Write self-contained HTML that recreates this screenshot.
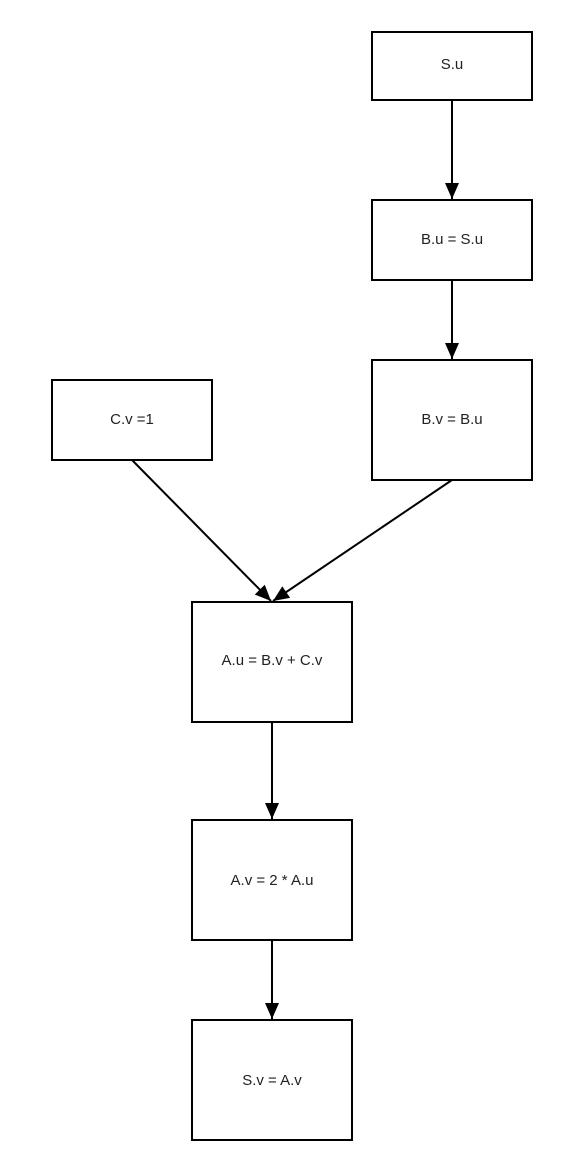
<!DOCTYPE html>
<html><head><style>body{margin:0;background:#fff}svg{display:block}</style></head><body>
<svg width="561" height="1172" xmlns="http://www.w3.org/2000/svg">
<defs>
<marker id="b" markerWidth="16" markerHeight="14" refX="16" refY="7" orient="auto" markerUnits="userSpaceOnUse" viewBox="0 0 16 14"><path d="M0,0 L16,7 L0,14 z" fill="#000"/></marker></defs>
<g fill="#fff" stroke="#000" stroke-width="2">
<rect x="372" y="32" width="160" height="68"/>
<rect x="372" y="200" width="160" height="80"/>
<rect x="372" y="360" width="160" height="120"/>
<rect x="52" y="380" width="160" height="80"/>
<rect x="192" y="602" width="160" height="120"/>
<rect x="192" y="820" width="160" height="120"/>
<rect x="192" y="1020" width="160" height="120"/>
</g>
<g stroke="#000" stroke-width="2" fill="none">
<line x1="452" y1="100" x2="452" y2="199" marker-end="url(#b)"/>
<line x1="452" y1="280" x2="452" y2="359" marker-end="url(#b)"/>
<line x1="132" y1="460" x2="271" y2="601" marker-end="url(#b)"/>
<line x1="452" y1="480" x2="273" y2="601" marker-end="url(#b)"/>
<line x1="272" y1="722" x2="272" y2="819" marker-end="url(#b)"/>
<line x1="272" y1="940" x2="272" y2="1019" marker-end="url(#b)"/>
</g>
<g font-family="Liberation Sans, sans-serif" font-size="15" fill="#222" text-anchor="middle">
<text x="452" y="69">S.u</text>
<text x="452" y="244">B.u = S.u</text>
<text x="452" y="424">B.v = B.u</text>
<text x="132" y="424">C.v =1</text>
<text x="272" y="665">A.u = B.v + C.v</text>
<text x="272" y="885">A.v = 2 * A.u</text>
<text x="272" y="1085">S.v = A.v</text>
</g>
</svg>
</body></html>
